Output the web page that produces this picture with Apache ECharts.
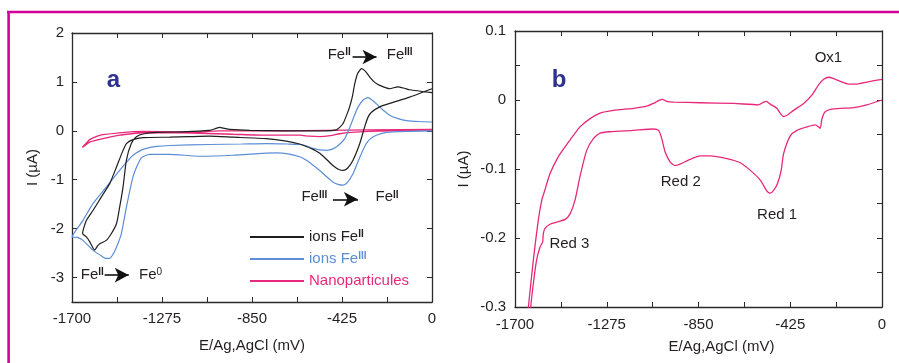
<!DOCTYPE html>
<html><head><meta charset="utf-8">
<script src="https://cdn.jsdelivr.net/npm/echarts@6/dist/echarts.min.js"></script>
<style>html,body{margin:0;padding:0;background:#fff}#c{width:899px;height:363px}</style>
</head><body><div id="c"></div>
<script>
// ---- ticks ----
const xTicks = [-1700,-1487.5,-1275,-1062.5,-850,-637.5,-425,-212.5,0];
const xLabels = [-1700,-1275,-850,-425,0];
const yTicksA = [-3,-2,-1,0,1,2];
const yTicksB = [-0.3,-0.25,-0.2,-0.15,-0.1,-0.05,0,0.05,0.1];
const yLabelsB = [-0.3,-0.2,-0.1,0,0.1];

// ---- panel a: ions Fe(II) ----
const feIICathodic = [[0,0.86],[-105,0.69],[-200,0.56],[-247,0.49],[-286,0.38],[-302,0.28],[-318,0.08],[-341,-0.26],[-373,-0.60],[-400,-0.77],[-420,-0.81],[-440,-0.79],[-465,-0.72],[-499,-0.58],[-530,-0.46],[-562,-0.38],[-625,-0.27],[-688,-0.21],[-782,-0.16],[-940,-0.13],[-1050,-0.11],[-1150,-0.12],[-1239,-0.13],[-1365,-0.14],[-1412,-0.18],[-1443,-0.26],[-1459,-0.40],[-1490,-0.74],[-1522,-1.08],[-1561,-1.35],[-1601,-1.63],[-1632,-1.83],[-1650,-2.10]];
const feIIAnodic = [[-1650,-2.10],[-1632,-2.17],[-1616,-2.27],[-1593,-2.44],[-1580,-2.36],[-1569,-2.31],[-1538,-2.24],[-1514,-2.10],[-1490,-1.90],[-1475,-1.56],[-1459,-1.15],[-1443,-0.60],[-1420,-0.26],[-1396,-0.12],[-1360,-0.06],[-1300,-0.03],[-1176,-0.02],[-1050,0.01],[-1020,0.05],[-1003,0.07],[-980,0.05],[-956,0.03],[-861,0.01],[-700,0.0],[-499,0.0],[-452,0.02],[-436,0.07],[-420,0.15],[-405,0.30],[-389,0.49],[-375,0.72],[-365,0.96],[-350,1.18],[-333,1.27],[-315,1.22],[-294,1.10],[-270,0.99],[-247,0.93],[-200,0.86],[-161,0.90],[-130,0.87],[-105,0.84],[0,0.78]];
// ---- panel a: ions Fe(III) ----
const feIIICathodic = [[0,0.0],[-100,-0.01],[-216,-0.03],[-263,-0.09],[-290,-0.16],[-310,-0.26],[-341,-0.54],[-373,-0.88],[-400,-1.06],[-420,-1.11],[-440,-1.10],[-467,-1.05],[-500,-0.93],[-530,-0.81],[-593,-0.60],[-625,-0.53],[-680,-0.47],[-735,-0.45],[-800,-0.46],[-940,-0.50],[-1097,-0.52],[-1239,-0.48],[-1333,-0.48],[-1365,-0.53],[-1380,-0.60],[-1412,-0.94],[-1443,-1.56],[-1467,-2.10],[-1490,-2.38],[-1510,-2.55],[-1522,-2.61],[-1540,-2.61],[-1554,-2.58],[-1601,-2.44],[-1648,-2.24],[-1675,-2.18],[-1700,-2.17]];
const feIIIAnodic = [[-1700,-2.17],[-1648,-1.83],[-1601,-1.49],[-1538,-1.15],[-1475,-0.81],[-1440,-0.63],[-1412,-0.50],[-1380,-0.41],[-1349,-0.36],[-1300,-0.32],[-1239,-0.30],[-1050,-0.28],[-900,-0.27],[-782,-0.26],[-680,-0.27],[-625,-0.28],[-590,-0.31],[-562,-0.36],[-530,-0.39],[-499,-0.40],[-475,-0.38],[-452,-0.33],[-430,-0.25],[-412,-0.16],[-395,0.0],[-381,0.15],[-365,0.33],[-349,0.49],[-325,0.63],[-302,0.68],[-280,0.62],[-255,0.52],[-230,0.42],[-200,0.32],[-160,0.25],[-121,0.21],[-60,0.19],[0,0.18]];
// ---- panel a: nanoparticles ----
const nanoCathodic = [[0,0.01],[-100,0.01],[-200,0.0],[-300,-0.01],[-380,-0.03],[-436,-0.06],[-480,-0.10],[-530,-0.12],[-580,-0.11],[-625,-0.09],[-782,-0.09],[-940,-0.07],[-1097,-0.05],[-1250,-0.04],[-1365,-0.04],[-1420,-0.06],[-1475,-0.09],[-1554,-0.16],[-1616,-0.23],[-1651,-0.34]];
const nanoAnodic = [[-1651,-0.34],[-1630,-0.24],[-1616,-0.18],[-1580,-0.11],[-1554,-0.08],[-1475,-0.04],[-1365,-0.01],[-1200,-0.02],[-1100,-0.02],[-1000,0.0],[-850,0.0],[-700,0.0],[-500,0.01],[-300,0.02],[0,0.03]];

// ---- panel b: nanoparticles (zoom) ----
const npUpper = [[-1645,-0.33],[-1638,-0.300],[-1615,-0.232],[-1592,-0.174],[-1576,-0.145],[-1564,-0.133],[-1538,-0.107],[-1499,-0.082],[-1445,-0.058],[-1399,-0.039],[-1352,-0.027],[-1306,-0.019],[-1244,-0.015],[-1151,-0.012],[-1090,-0.009],[-1059,-0.005],[-1035,-0.001],[-1017,0.001],[-997,-0.002],[-966,-0.003],[-842,-0.004],[-688,-0.005],[-572,-0.007],[-548,-0.003],[-536,-0.002],[-518,-0.006],[-487,-0.012],[-472,-0.019],[-456,-0.024],[-440,-0.022],[-410,-0.015],[-363,-0.005],[-325,0.007],[-294,0.022],[-270,0.030],[-247,0.033],[-224,0.031],[-193,0.027],[-155,0.023],[-116,0.023],[-70,0.026],[0,0.030]];
const npLower = [[0,0.0],[-70,-0.007],[-131,-0.011],[-224,-0.013],[-263,-0.017],[-278,-0.027],[-286,-0.041],[-294,-0.039],[-309,-0.036],[-348,-0.039],[-394,-0.044],[-425,-0.052],[-456,-0.078],[-467,-0.102],[-484,-0.121],[-502,-0.131],[-518,-0.135],[-533,-0.132],[-564,-0.116],[-610,-0.102],[-657,-0.091],[-719,-0.085],[-796,-0.081],[-842,-0.081],[-889,-0.086],[-935,-0.093],[-958,-0.095],[-981,-0.090],[-1005,-0.075],[-1020,-0.056],[-1035,-0.044],[-1059,-0.042],[-1151,-0.044],[-1260,-0.046],[-1306,-0.048],[-1337,-0.056],[-1368,-0.073],[-1399,-0.111],[-1422,-0.145],[-1445,-0.165],[-1468,-0.173],[-1507,-0.177],[-1538,-0.180],[-1561,-0.186],[-1569,-0.194],[-1572,-0.206],[-1584,-0.213],[-1600,-0.232],[-1615,-0.266],[-1627,-0.300],[-1633,-0.33]];

// ---- annotations ----
const annAPos = [[-493,1.55],[-214,1.55],[-617,-1.36],[-267,-1.36],[-1659,-2.95],[-1384,-2.95]];
const annAText = ['Fe{s|II}','Fe{s|III}','Fe{s|III}','Fe{s|II}','Fe{s|II}','Fe{z|0}'];
const arrowsA = [[[-375,1.51],[-262,1.51]],[[-468,-1.40],[-350,-1.40]],[[-1546,-2.95],[-1432,-2.95]]];
const panelLabelA = [[-1536,1.03],'a'];
const annBPos = [[-312,0.061],[-1025,-0.119],[-579,-0.166],[-1541,-0.208]];
const annBText = ['Ox1','Red 2','Red 1','Red 3'];
const panelLabelB = [[-1530,0.029],'b'];

const seriesNames = ['ions FeII','ions FeIII','Nanoparticules'];
const legendTexts = ['ions Fe{s|II}','ions Fe{s|III}','Nanoparticules'];

const C_BLACK = '#1e1e1e', C_BLUE = '#5b8ed6', C_PINK = '#e8287a', C_TEXT = '#231f20', C_AXIS = '#2a2a2a';
const FONT = '"Liberation Sans", Arial, sans-serif';
const rich = {
  s: {fontSize: 10, fontWeight: 'bold', verticalAlign: 'top', lineHeight: 11, fontFamily: FONT},
  z: {fontSize: 10, verticalAlign: 'top', lineHeight: 11, fontFamily: FONT}
};

function axisPair(grid, dim, opts) {
  const base = {
    gridIndex: grid, type: 'value', min: opts.min, max: opts.max,
    axisLine: {show: true, onZero: false, lineStyle: {color: C_AXIS, width: 1.3}},
    axisTick: {show: true, inside: true, length: 5, customValues: opts.ticks, lineStyle: {color: C_AXIS, width: 1}},
    splitLine: {show: false}
  };
  const main = Object.assign({}, base, {
    position: dim === 'x' ? 'bottom' : 'left',
    axisLabel: {show: true, customValues: opts.labels, margin: opts.margin, fontSize: 15, color: C_TEXT, fontFamily: FONT,
      formatter: v => String(Math.round(v * 1000) / 1000)},
    name: opts.name, nameLocation: 'middle', nameGap: opts.nameGap,
    nameTextStyle: Object.assign({fontSize: 15, color: C_TEXT, fontFamily: FONT}, opts.nameStyle || {})
  });
  const mirror = Object.assign({}, base, {
    position: dim === 'x' ? 'top' : 'right',
    axisLabel: {show: false}
  });
  return [main, mirror];
}

const xAxes = [
  ...axisPair(0, 'x', {min: -1700, max: 0, ticks: xTicks, labels: xLabels, margin: 9, name: 'E/Ag,AgCl (mV)', nameGap: 36}),
  ...axisPair(1, 'x', {min: -1700, max: 0, ticks: xTicks, labels: xLabels, margin: 10, name: 'E/Ag,AgCl (mV)', nameGap: 32, nameStyle: {padding: [0,0,0,46]}})
];
const yAxes = [
  ...axisPair(0, 'y', {min: -3.5, max: 2, ticks: yTicksA, labels: yTicksA, margin: 8, name: 'I (µA)', nameGap: 32}),
  ...axisPair(1, 'y', {min: -0.3, max: 0.1, ticks: yTicksB, labels: yLabelsB, margin: 9, name: 'I (µA)', nameGap: 44})
];

function curve(name, data, color, xi, yi, width) {
  return {name, type: 'line', xAxisIndex: xi, yAxisIndex: yi, data, showSymbol: false, symbol: 'none',
    smooth: 0.2, lineStyle: {color, width: width || 1.2}, itemStyle: {color}, silent: true, animation: false, clip: true};
}

function annSeries(xi, yi, pos, texts, labelOpts) {
  return {
    type: 'scatter', xAxisIndex: xi, yAxisIndex: yi, symbolSize: 0.1, silent: true, animation: false,
    itemStyle: {color: 'rgba(0,0,0,0)', opacity: 1},
    label: Object.assign({show: true, position: 'right', distance: 0, color: C_TEXT, fontSize: 15, fontFamily: FONT, opacity: 1, rich: rich}, labelOpts || {}),
    data: pos.map((p, i) => ({value: p, label: {formatter: texts[i]}}))
  };
}

const panelLabelStyle = {color: '#2e3192', fontSize: 24, fontWeight: 'bold'};
const arrowSeries = annSeries(0, 0, annAPos, annAText);
arrowSeries.markLine = {silent: true, animation: false, symbol: ['none', 'arrow'], symbolSize: [11, 14],
  lineStyle: {color: '#111', width: 1.6, type: 'solid', opacity: 1}, label: {show: false},
  data: arrowsA.map(a => [{coord: a[0]}, {coord: a[1]}])};

const series = [
  curve(seriesNames[2], nanoCathodic.concat(nanoAnodic), C_PINK, 0, 0, 1.3),
  curve(seriesNames[1], feIIICathodic.concat(feIIIAnodic), C_BLUE, 0, 0, 1.2),
  curve(seriesNames[0], feIICathodic.concat(feIIAnodic), C_BLACK, 0, 0, 1.2),
  arrowSeries,
  annSeries(0, 0, [panelLabelA[0]], [panelLabelA[1]], panelLabelStyle),
  curve('npUpper', npUpper, C_PINK, 2, 2, 1.3),
  curve('npLower', npLower, C_PINK, 2, 2, 1.3),
  annSeries(2, 2, annBPos, annBText),
  annSeries(2, 2, [panelLabelB[0]], [panelLabelB[1]], panelLabelStyle)
];

const chart = echarts.init(document.getElementById('c'), null, {renderer: 'canvas'});
chart.setOption({
  backgroundColor: '#ffffff',
  animation: false,
  grid: [
    {left: 72, top: 33, width: 360, height: 269, show: false},
    {left: 515, top: 31, width: 367, height: 276, show: false}
  ],
  xAxis: xAxes,
  yAxis: yAxes,
  legend: {
    orient: 'vertical', left: 249, top: 229, padding: 0, itemWidth: 54, itemHeight: 14, itemGap: 6,
    selectedMode: false,
    itemStyle: {opacity: 0, borderWidth: 0},
    data: [
      {name: seriesNames[0], textStyle: {color: C_TEXT}},
      {name: seriesNames[1], textStyle: {color: C_BLUE}},
      {name: seriesNames[2], textStyle: {color: C_PINK}}
    ],
    formatter: n => legendTexts[seriesNames.indexOf(n)],
    textStyle: {fontSize: 15, fontFamily: FONT, lineHeight: 16, rich: rich}
  },
  graphic: [
    {type: 'line', shape: {x1: 7, y1: 12, x2: 899, y2: 12}, style: {stroke: '#d4009c', lineWidth: 2.6}, silent: true},
    {type: 'line', shape: {x1: 8.6, y1: 11, x2: 8.6, y2: 363}, style: {stroke: '#d4009c', lineWidth: 2.6}, silent: true}
  ],
  series: series
});
</script></body></html>
